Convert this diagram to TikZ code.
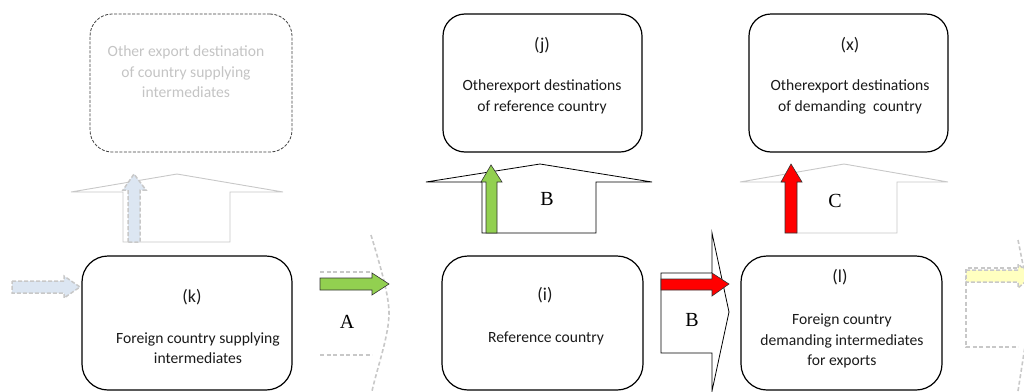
\documentclass[tikz,border=0pt]{standalone}
\usepackage{fontspec}
\setmainfont{Carlito}
\newfontfamily\serifA{Liberation Serif}
\definecolor{txtc}{HTML}{1A1A1A}
\definecolor{ghost}{HTML}{C8C8C8}
\definecolor{ghosttxt}{HTML}{C4C4C4}
\definecolor{lblue}{HTML}{DCE6F2}
\definecolor{lgreen}{HTML}{92D050}
\definecolor{lyellow}{HTML}{FFFFC0}
\begin{document}
\begin{tikzpicture}[x=1pt,y=-1pt,
  box/.style={draw=black, line width=1.2pt, rounded corners=22pt, inner sep=0pt},
  ghostbox/.style={draw=black!75, line width=0.8pt, dash pattern=on 3pt off 1.5pt, rounded corners=22pt, inner sep=0pt},
  txt/.style={text=txtc, font=\fontsize{15.6}{20.5}\selectfont, align=center, inner sep=0pt},
  lab/.style={text=txtc, font=\fontsize{18}{20}\selectfont, inner sep=0pt},
  serl/.style={text=black, font=\serifA\fontsize{20}{24}\selectfont, inner sep=0pt},
  blk/.style={draw=black, line width=0.8pt, fill=white, line join=miter},
  ghostblk/.style={draw=ghost, line width=0.9pt, fill=white, line join=miter},
  ghostdash/.style={draw=ghost, line width=1.6pt, dash pattern=on 4pt off 2.5pt},
  flow/.style={line width=0.6pt, line join=miter}
]
\useasboundingbox (0,0) rectangle (1024,391);
\clip (0,0) rectangle (1024,391);

% ---- boxes ----
\node[ghostbox, minimum width=202pt, minimum height=138pt] (g) at (191,83) {};
\node[box, minimum width=199pt, minimum height=138pt] (j) at (542.5,83) {};
\node[box, minimum width=199pt, minimum height=138pt] (x) at (848.5,83) {};
\node[box, minimum width=210pt, minimum height=134pt, rounded corners=26pt] (k) at (187,323) {};
\node[box, minimum width=201pt, minimum height=134pt, rounded corners=26pt] (i) at (542.5,323) {};
\node[box, minimum width=201pt, minimum height=134pt, rounded corners=26pt] (l) at (841.5,323) {};

% ---- texts ----
\node[txt, text=ghosttxt] (gt) at (186,72) {Other export destination\\of country supplying\\intermediates};
\node[lab] (jl) at (542,45) {(j)};
\node[txt] (jt) at (542,97) {Otherexport destinations\\of reference country};
\node[lab] (xl) at (850,45) {(x)};
\node[txt] (xt) at (850,97) {Otherexport destinations\\of demanding\ \ country};
\node[lab] (kl) at (192,297) {(k)};
\node[txt] (kt) at (198,348) {Foreign country supplying\\intermediates};
\node[lab] (il) at (545,295) {(i)};
\node[txt] (it) at (546,338) {Reference country};
\node[lab] (ll) at (840,277) {(l)};
\node[txt] (lt) at (842,341) {Foreign country\\demanding intermediates\\for exports};

% ---- large block arrows (up) ----
\draw[ghostblk] (71,192) -- (177,174) -- (283,192) -- (230,192) -- (230,242) -- (123,242) -- (123,192) -- cycle;
\draw[blk] (426,182) -- (540,164) -- (652,182) -- (596,182) -- (596,233) -- (482,233) -- (482,182) -- cycle;
\draw[ghostblk] (740,182) -- (844,164) -- (948,182) -- (897,182) -- (897,233) -- (796,233) -- (796,182) -- cycle;

% ---- large block arrows (right) ----
\draw[ghostdash] (320,272) -- (372,272);
\draw[ghostdash] (320,355) -- (372,355);
\draw[ghostdash] (371,235) .. controls (380,265) and (389,295) .. (389,313) .. controls (389,335) and (378,365) .. (372,391);
\draw[blk] (661,273) -- (712,273) -- (712,233) -- (729,312) -- (712,391) -- (712,353) -- (661,353) -- cycle;
\draw[ghostdash] (1030,268) -- (966,268) -- (966,347) -- (1018,347);
\draw[ghostdash] (1018,240) -- (1030,300);
\draw[ghostdash] (1018,391) -- (1026,340);

% ---- labels on block arrows ----
\node[serl] (A) at (347,322) {A};
\node[serl] (B1) at (547,199) {B};
\node[serl] (C) at (835,201) {C};
\node[serl] (B2) at (692,320) {B};

% ---- flow arrows ----
% light blue, left
\draw[flow, fill=lblue, draw=ghost, line width=1.5pt, dash pattern=on 4pt off 2pt]
  (12,281) -- (64,281) -- (64,276) -- (80,287) -- (64,298) -- (64,293) -- (12,293) -- cycle;
% light blue, up
\draw[flow, fill=lblue, draw=ghost, line width=1.5pt, dash pattern=on 4pt off 2pt]
  (128,242) -- (128,190) -- (123,190) -- (134,174) -- (146,190) -- (140,190) -- (140,242) -- cycle;
% green, right (A)
\draw[flow, fill=lgreen, draw=black!80]
  (320,278) -- (372,278) -- (372,273) -- (389,284) -- (372,295) -- (372,290) -- (320,290) -- cycle;
% green, up (B)
\draw[flow, fill=lgreen, draw=black!80]
  (486,233) -- (486,182) -- (481,182) -- (491,165) -- (502,182) -- (497,182) -- (497,233) -- cycle;
% red, right (B)
\draw[flow, fill=red, draw=black!80]
  (661,279) -- (712,279) -- (712,273) -- (729,284) -- (712,296) -- (712,290) -- (661,290) -- cycle;
% red, up (C)
\draw[flow, fill=red, draw=black!80]
  (785,233) -- (785,182) -- (781,182) -- (791,164) -- (802,182) -- (797,182) -- (797,233) -- cycle;
% yellow, right (far)
\draw[flow, fill=lyellow, draw=ghost, line width=1.5pt, dash pattern=on 4pt off 2pt]
  (966,270) -- (1018,270) -- (1018,264) -- (1032,276) -- (1018,288) -- (1018,282) -- (966,282) -- cycle;
\end{tikzpicture}
\end{document}
